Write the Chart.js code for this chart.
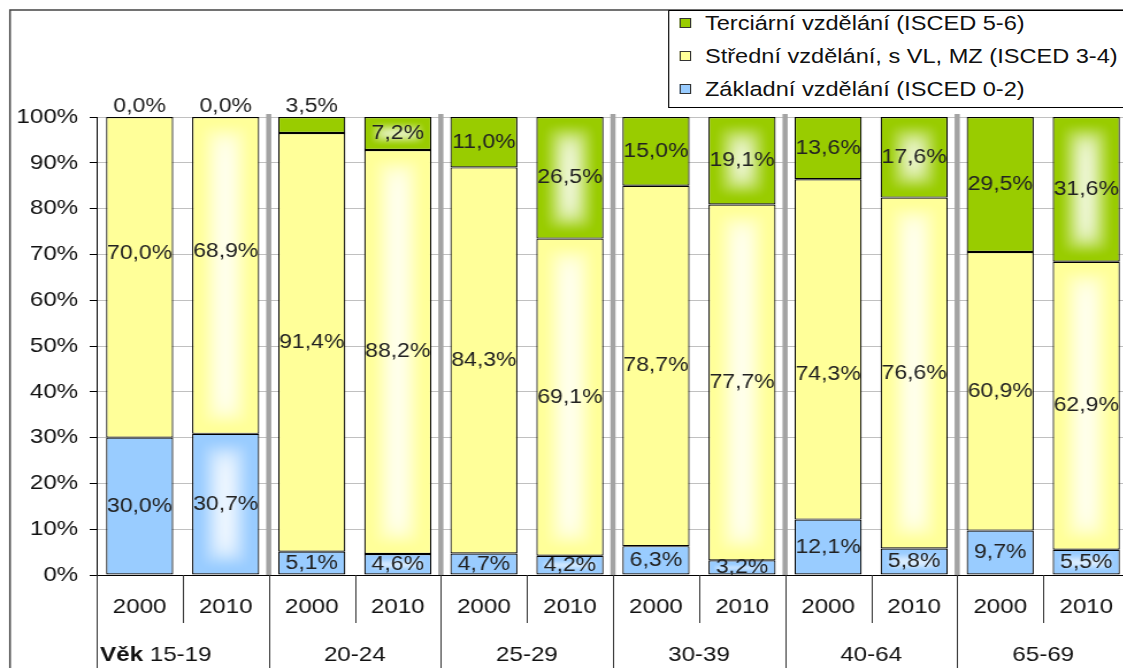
<!DOCTYPE html>
<html>
<head>
<meta charset="utf-8">
<script src="https://cdn.jsdelivr.net/npm/chart.js@4.4.1/dist/chart.umd.min.js"></script>
<style>
html,body{margin:0;padding:0;background:#fff;overflow:hidden;width:1123px;height:668px;}
#wrap{position:absolute;left:0;top:0;width:992px;height:668px;transform:scaleX(1.15);transform-origin:0 0;}
#c{position:absolute;left:0;top:0;}
#legend{position:absolute;left:581px;top:10px;width:430px;height:96px;border:1px solid #000;background:#fff;
  font-family:"Liberation Sans",Arial,sans-serif;font-size:20.5px;color:#111;}
.item{position:absolute;left:9px;height:24px;line-height:24px;white-space:nowrap;}
.sw{display:inline-block;width:8px;height:8px;border:1px solid #333;margin-right:12px;vertical-align:middle;position:relative;top:-2px;}
</style>
</head>
<body>
<div id="wrap"><canvas id="c" width="992" height="668"></canvas><div id="legend"></div></div>
<script>
// ---- data ----
const categories = ['2000','2010','2000','2010','2000','2010','2000','2010','2000','2010','2000','2010'];
const ageGroups = ['15-19','20-24','25-29','30-39','40-64','65-69'];
const ageLabelPrefix = 'Věk';
const tertiary  = [0.0, 0.0, 3.5, 7.2, 11.0, 26.5, 15.0, 19.1, 13.6, 17.6, 29.5, 31.6];
const secondary = [70.0, 68.9, 91.4, 88.2, 84.3, 69.1, 78.7, 77.7, 74.3, 76.6, 60.9, 62.9];
const basic     = [30.0, 30.7, 5.1, 4.6, 4.7, 4.2, 6.3, 3.2, 12.1, 5.8, 9.7, 5.5];
const seriesNames = {
  tertiary: 'Terciární vzdělání (ISCED 5-6)',
  secondary: 'Střední vzdělání, s VL, MZ (ISCED 3-4)',
  basic: 'Základní vzdělání (ISCED 0-2)'
};
const yTickValues = [0,10,20,30,40,50,60,70,80,90,100];

// ---- styles ----
const COLORS = {tertiary:'#99CC00', secondary:'#FFFF99', basic:'#99CCFF'};
const FONT = '"Liberation Sans", Arial, sans-serif';
const BAR_PCT = 0.78;
const labelShift = {secondary:{0:-24, 1:-24, 8:25}};

// 100% stacked: each bar normalised to its total (as the original chart does)
const totals = categories.map((_, i) => basic[i] + secondary[i] + tertiary[i]);
const share = arr => arr.map((v, i) => v / totals[i] * 100);

function hexToRgb(h){const n=parseInt(h.slice(1),16);return [(n>>16)&255,(n>>8)&255,n&255];}
const patCache = {};
function boxPattern(c, hex, left, top, w, h){
  const W = Math.max(1, Math.round(w)), H = Math.max(1, Math.round(h));
  const key = hex + W + 'x' + H;
  let off = patCache[key];
  if (!off){
    off = document.createElement('canvas'); off.width = W; off.height = H;
    const o = off.getContext('2d');
    const img = o.createImageData(W, H);
    const [r,g,b] = hexToRgb(hex);
    const N = Math.max(1, Math.min(W, H) / 2);
    const k = Math.max(1.5, N * 0.22);
    for (let yy = 0; yy < H; yy++){
      for (let xx = 0; xx < W; xx++){
        const d1 = xx + 0.5, d2 = W - xx - 0.5, d3 = yy + 0.5, d4 = H - yy - 0.5;
        const s = Math.exp(-d1/k) + Math.exp(-d2/k) + Math.exp(-d3/k) + Math.exp(-d4/k);
        let d = -k * Math.log(s);
        let t = Math.min(1, Math.max(0, (d - 3) / (N * 1.0)));
        t = t * t * (3 - 2 * t) * 0.95;
        const p = (yy * W + xx) * 4;
        img.data[p]   = Math.round(r + (255 - r) * t);
        img.data[p+1] = Math.round(g + (255 - g) * t);
        img.data[p+2] = Math.round(b + (255 - b) * t);
        img.data[p+3] = 255;
      }
    }
    o.putImageData(img, 0, 0);
    patCache[key] = off;
  }
  const p = c.createPattern(off, 'no-repeat');
  p.setTransform(new DOMMatrix([1,0,0,1,left,top]));
  return p;
}
function fillFor(base){
  return (ctx) => {
    const i = ctx.dataIndex;
    if (ctx.type !== 'data' || i === undefined || i % 2 === 0) return base;
    const chart = ctx.chart;
    const xs = chart.scales.x, ys = chart.scales.y;
    if (!xs || !ys || !chart.chartArea) return base;
    const ds = chart.data.datasets;
    let lo = 0;
    for (let d = 0; d < ctx.datasetIndex; d++) lo += ds[d].data[i];
    const hi = lo + ds[ctx.datasetIndex].data[i];
    const step = xs.getPixelForValue(1) - xs.getPixelForValue(0);
    const w = step * BAR_PCT;
    const left = xs.getPixelForValue(i) - w/2;
    const top = ys.getPixelForValue(hi), bottom = ys.getPixelForValue(lo);
    return boxPattern(chart.ctx, base, left, top, w, bottom - top);
  };
}
function mkDataset(key, raw){
  return {
    key, raw, label: seriesNames[key], data: share(raw), stack: 's',
    backgroundColor: fillFor(COLORS[key]), borderColor: '#000', borderWidth: 1.2,
    borderSkipped: false, barPercentage: BAR_PCT, categoryPercentage: 1.0
  };
}

const valueLabels = {
  id: 'valueLabels',
  afterDatasetsDraw(chart){
    const c = chart.ctx;
    c.save();
    c.font = '20px ' + FONT; c.fillStyle = '#222'; c.textAlign = 'center'; c.textBaseline = 'middle';
    chart.data.datasets.forEach((ds, di) => {
      chart.getDatasetMeta(di).data.forEach((bar, i) => {
        const p = bar.getProps(['x','y','base'], true);
        const v = ds.raw[i];
        let cy = (p.y + p.base)/2;
        if (ds.key === 'tertiary' && v < 5) cy = Math.min(p.y, p.base) - 11;
        cy += (labelShift[ds.key] && labelShift[ds.key][i]) || 0;
        c.fillText(v.toFixed(1).replace('.', ',') + '%', p.x, cy);
      });
    });
    c.restore();
  }
};

const decor = {
  id: 'decor',
  beforeDatasetsDraw(chart){
    const {ctx: c, chartArea: a} = chart; const x = chart.scales.x;
    const step = x.getPixelForValue(1) - x.getPixelForValue(0);
    c.save(); c.strokeStyle = '#a3a3a3'; c.lineWidth = 4.5;
    for (let g = 1; g < ageGroups.length; g++){
      const bx = x.getPixelForValue(2*g) - step/2;
      c.beginPath(); c.moveTo(bx, a.top - 3); c.lineTo(bx, a.bottom); c.stroke();
    }
    c.restore();
  },
  afterDraw(chart){
    const {ctx: c, chartArea: a} = chart; const x = chart.scales.x;
    const step = x.getPixelForValue(1) - x.getPixelForValue(0);
    c.save();
    c.strokeStyle = '#333'; c.lineWidth = 1;
    for (let k = 0; k <= categories.length; k++){
      const bx = Math.round(x.getPixelForValue(0) - step/2 + k*step) + 0.5;
      c.beginPath(); c.moveTo(bx, a.bottom); c.lineTo(bx, k % 2 === 0 ? chart.height : 623); c.stroke();
    }
    // group labels
    c.fillStyle = '#111'; c.textBaseline = 'middle';
    const gy = 655;
    ageGroups.forEach((g, gi) => {
      if (gi === 0){
        const x0 = x.getPixelForValue(0) - step/2 + 3;
        c.textAlign = 'left';
        c.font = 'bold 21px ' + FONT;
        c.fillText(ageLabelPrefix, x0, gy);
        const wv = c.measureText(ageLabelPrefix + ' ').width;
        c.font = '21px ' + FONT;
        c.fillText(g, x0 + wv, gy);
      } else {
        const cx = (x.getPixelForValue(2*gi) + x.getPixelForValue(2*gi+1)) / 2;
        c.textAlign = 'center'; c.font = '21px ' + FONT;
        c.fillText(g, cx, gy);
      }
    });
    // outer frame
    c.strokeStyle = '#444'; c.lineWidth = 1.5;
    c.beginPath(); c.moveTo(8.7, chart.height); c.lineTo(8.7, 10); c.lineTo(chart.width, 10); c.stroke();
    c.restore();
  }
};

new Chart(document.getElementById('c'), {
  type: 'bar',
  data: {
    labels: categories,
    datasets: [mkDataset('basic', basic), mkDataset('secondary', secondary), mkDataset('tertiary', tertiary)]
  },
  options: {
    responsive: false, animation: false, devicePixelRatio: 1, events: [],
    layout: {padding: {top: 117, right: 10, left: 0, bottom: 0}},
    plugins: {legend: {display: false}, tooltip: {enabled: false}, title: {display: false}},
    scales: {
      x: {
        stacked: true, offset: true,
        grid: {display: false, drawTicks: false},
        border: {display: true, color: '#000', width: 1},
        ticks: {autoSkip: false, maxRotation: 0, padding: 20, color: '#111', font: {family: FONT, size: 21}},
        afterFit(s){ s.height = 93; }
      },
      y: {
        stacked: true, min: 0, max: 100,
        afterBuildTicks(s){ s.ticks = yTickValues.map(v => ({value: v})); },
        grid: {color: '#c0c0c0', tickColor: '#000', tickLength: 6, lineWidth: 1},
        border: {display: true, color: '#000', width: 1},
        ticks: {padding: 10, color: '#111', font: {family: FONT, size: 21}, callback: v => v + '%'},
        afterFit(s){ s.width = 84; }
      }
    }
  },
  plugins: [decor, valueLabels]
});

// legend (real text), top-to-bottom in reverse stacking order
const lg = document.getElementById('legend');
['tertiary','secondary','basic'].forEach((k, r) => {
  const d = document.createElement('div');
  d.className = 'item'; d.style.top = (r*33) + 'px';
  const sw = document.createElement('span'); sw.className = 'sw'; sw.style.background = COLORS[k];
  d.appendChild(sw); d.appendChild(document.createTextNode(seriesNames[k]));
  lg.appendChild(d);
});
</script>
</body>
</html>
